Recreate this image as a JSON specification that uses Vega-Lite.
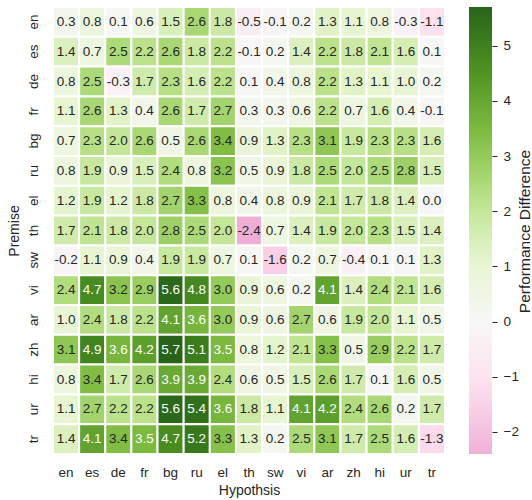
{
  "$schema": "https://vega.github.io/schema/vega-lite/v6.json",
  "width": 392,
  "height": 447,
  "autosize": {"type": "none"},
  "padding": {"left": 53, "top": 7, "right": 87, "bottom": 46},
  "background": "white",
  "config": {
    "font": "Liberation Sans",
    "view": {"stroke": null},
    "locale": {"number": {"decimal": ".", "thousands": ",", "grouping": [3], "currency": ["$", ""], "minus": "-"}}
  },
  "datasets": {
    "cells": [
      {"Premise":"en","Hypothsis":"en","value":0.3},{"Premise":"en","Hypothsis":"es","value":0.8},{"Premise":"en","Hypothsis":"de","value":0.1},{"Premise":"en","Hypothsis":"fr","value":0.6},{"Premise":"en","Hypothsis":"bg","value":1.5},{"Premise":"en","Hypothsis":"ru","value":2.6},{"Premise":"en","Hypothsis":"el","value":1.8},{"Premise":"en","Hypothsis":"th","value":-0.5},{"Premise":"en","Hypothsis":"sw","value":-0.1},{"Premise":"en","Hypothsis":"vi","value":0.2},{"Premise":"en","Hypothsis":"ar","value":1.3},{"Premise":"en","Hypothsis":"zh","value":1.1},{"Premise":"en","Hypothsis":"hi","value":0.8},{"Premise":"en","Hypothsis":"ur","value":-0.3},{"Premise":"en","Hypothsis":"tr","value":-1.1},
      {"Premise":"es","Hypothsis":"en","value":1.4},{"Premise":"es","Hypothsis":"es","value":0.7},{"Premise":"es","Hypothsis":"de","value":2.5},{"Premise":"es","Hypothsis":"fr","value":2.2},{"Premise":"es","Hypothsis":"bg","value":2.6},{"Premise":"es","Hypothsis":"ru","value":1.8},{"Premise":"es","Hypothsis":"el","value":2.2},{"Premise":"es","Hypothsis":"th","value":-0.1},{"Premise":"es","Hypothsis":"sw","value":0.2},{"Premise":"es","Hypothsis":"vi","value":1.4},{"Premise":"es","Hypothsis":"ar","value":2.2},{"Premise":"es","Hypothsis":"zh","value":1.8},{"Premise":"es","Hypothsis":"hi","value":2.1},{"Premise":"es","Hypothsis":"ur","value":1.6},{"Premise":"es","Hypothsis":"tr","value":0.1},
      {"Premise":"de","Hypothsis":"en","value":0.8},{"Premise":"de","Hypothsis":"es","value":2.5},{"Premise":"de","Hypothsis":"de","value":-0.3},{"Premise":"de","Hypothsis":"fr","value":1.7},{"Premise":"de","Hypothsis":"bg","value":2.3},{"Premise":"de","Hypothsis":"ru","value":1.6},{"Premise":"de","Hypothsis":"el","value":2.2},{"Premise":"de","Hypothsis":"th","value":0.1},{"Premise":"de","Hypothsis":"sw","value":0.4},{"Premise":"de","Hypothsis":"vi","value":0.8},{"Premise":"de","Hypothsis":"ar","value":2.2},{"Premise":"de","Hypothsis":"zh","value":1.3},{"Premise":"de","Hypothsis":"hi","value":1.1},{"Premise":"de","Hypothsis":"ur","value":1.0},{"Premise":"de","Hypothsis":"tr","value":0.2},
      {"Premise":"fr","Hypothsis":"en","value":1.1},{"Premise":"fr","Hypothsis":"es","value":2.6},{"Premise":"fr","Hypothsis":"de","value":1.3},{"Premise":"fr","Hypothsis":"fr","value":0.4},{"Premise":"fr","Hypothsis":"bg","value":2.6},{"Premise":"fr","Hypothsis":"ru","value":1.7},{"Premise":"fr","Hypothsis":"el","value":2.7},{"Premise":"fr","Hypothsis":"th","value":0.3},{"Premise":"fr","Hypothsis":"sw","value":0.3},{"Premise":"fr","Hypothsis":"vi","value":0.6},{"Premise":"fr","Hypothsis":"ar","value":2.2},{"Premise":"fr","Hypothsis":"zh","value":0.7},{"Premise":"fr","Hypothsis":"hi","value":1.6},{"Premise":"fr","Hypothsis":"ur","value":0.4},{"Premise":"fr","Hypothsis":"tr","value":-0.1},
      {"Premise":"bg","Hypothsis":"en","value":0.7},{"Premise":"bg","Hypothsis":"es","value":2.3},{"Premise":"bg","Hypothsis":"de","value":2.0},{"Premise":"bg","Hypothsis":"fr","value":2.6},{"Premise":"bg","Hypothsis":"bg","value":0.5},{"Premise":"bg","Hypothsis":"ru","value":2.6},{"Premise":"bg","Hypothsis":"el","value":3.4},{"Premise":"bg","Hypothsis":"th","value":0.9},{"Premise":"bg","Hypothsis":"sw","value":1.3},{"Premise":"bg","Hypothsis":"vi","value":2.3},{"Premise":"bg","Hypothsis":"ar","value":3.1},{"Premise":"bg","Hypothsis":"zh","value":1.9},{"Premise":"bg","Hypothsis":"hi","value":2.3},{"Premise":"bg","Hypothsis":"ur","value":2.3},{"Premise":"bg","Hypothsis":"tr","value":1.6},
      {"Premise":"ru","Hypothsis":"en","value":0.8},{"Premise":"ru","Hypothsis":"es","value":1.9},{"Premise":"ru","Hypothsis":"de","value":0.9},{"Premise":"ru","Hypothsis":"fr","value":1.5},{"Premise":"ru","Hypothsis":"bg","value":2.4},{"Premise":"ru","Hypothsis":"ru","value":0.8},{"Premise":"ru","Hypothsis":"el","value":3.2},{"Premise":"ru","Hypothsis":"th","value":0.5},{"Premise":"ru","Hypothsis":"sw","value":0.9},{"Premise":"ru","Hypothsis":"vi","value":1.8},{"Premise":"ru","Hypothsis":"ar","value":2.5},{"Premise":"ru","Hypothsis":"zh","value":2.0},{"Premise":"ru","Hypothsis":"hi","value":2.5},{"Premise":"ru","Hypothsis":"ur","value":2.8},{"Premise":"ru","Hypothsis":"tr","value":1.5},
      {"Premise":"el","Hypothsis":"en","value":1.2},{"Premise":"el","Hypothsis":"es","value":1.9},{"Premise":"el","Hypothsis":"de","value":1.2},{"Premise":"el","Hypothsis":"fr","value":1.8},{"Premise":"el","Hypothsis":"bg","value":2.7},{"Premise":"el","Hypothsis":"ru","value":3.3},{"Premise":"el","Hypothsis":"el","value":0.8},{"Premise":"el","Hypothsis":"th","value":0.4},{"Premise":"el","Hypothsis":"sw","value":0.8},{"Premise":"el","Hypothsis":"vi","value":0.9},{"Premise":"el","Hypothsis":"ar","value":2.1},{"Premise":"el","Hypothsis":"zh","value":1.7},{"Premise":"el","Hypothsis":"hi","value":1.8},{"Premise":"el","Hypothsis":"ur","value":1.4},{"Premise":"el","Hypothsis":"tr","value":0.0},
      {"Premise":"th","Hypothsis":"en","value":1.7},{"Premise":"th","Hypothsis":"es","value":2.1},{"Premise":"th","Hypothsis":"de","value":1.8},{"Premise":"th","Hypothsis":"fr","value":2.0},{"Premise":"th","Hypothsis":"bg","value":2.8},{"Premise":"th","Hypothsis":"ru","value":2.5},{"Premise":"th","Hypothsis":"el","value":2.0},{"Premise":"th","Hypothsis":"th","value":-2.4},{"Premise":"th","Hypothsis":"sw","value":0.7},{"Premise":"th","Hypothsis":"vi","value":1.4},{"Premise":"th","Hypothsis":"ar","value":1.9},{"Premise":"th","Hypothsis":"zh","value":2.0},{"Premise":"th","Hypothsis":"hi","value":2.3},{"Premise":"th","Hypothsis":"ur","value":1.5},{"Premise":"th","Hypothsis":"tr","value":1.4},
      {"Premise":"sw","Hypothsis":"en","value":-0.2},{"Premise":"sw","Hypothsis":"es","value":1.1},{"Premise":"sw","Hypothsis":"de","value":0.9},{"Premise":"sw","Hypothsis":"fr","value":0.4},{"Premise":"sw","Hypothsis":"bg","value":1.9},{"Premise":"sw","Hypothsis":"ru","value":1.9},{"Premise":"sw","Hypothsis":"el","value":0.7},{"Premise":"sw","Hypothsis":"th","value":0.1},{"Premise":"sw","Hypothsis":"sw","value":-1.6},{"Premise":"sw","Hypothsis":"vi","value":0.2},{"Premise":"sw","Hypothsis":"ar","value":0.7},{"Premise":"sw","Hypothsis":"zh","value":-0.4},{"Premise":"sw","Hypothsis":"hi","value":0.1},{"Premise":"sw","Hypothsis":"ur","value":0.1},{"Premise":"sw","Hypothsis":"tr","value":1.3},
      {"Premise":"vi","Hypothsis":"en","value":2.4},{"Premise":"vi","Hypothsis":"es","value":4.7},{"Premise":"vi","Hypothsis":"de","value":3.2},{"Premise":"vi","Hypothsis":"fr","value":2.9},{"Premise":"vi","Hypothsis":"bg","value":5.6},{"Premise":"vi","Hypothsis":"ru","value":4.8},{"Premise":"vi","Hypothsis":"el","value":3.0},{"Premise":"vi","Hypothsis":"th","value":0.9},{"Premise":"vi","Hypothsis":"sw","value":0.6},{"Premise":"vi","Hypothsis":"vi","value":0.2},{"Premise":"vi","Hypothsis":"ar","value":4.1},{"Premise":"vi","Hypothsis":"zh","value":1.4},{"Premise":"vi","Hypothsis":"hi","value":2.4},{"Premise":"vi","Hypothsis":"ur","value":2.1},{"Premise":"vi","Hypothsis":"tr","value":1.6},
      {"Premise":"ar","Hypothsis":"en","value":1.0},{"Premise":"ar","Hypothsis":"es","value":2.4},{"Premise":"ar","Hypothsis":"de","value":1.8},{"Premise":"ar","Hypothsis":"fr","value":2.2},{"Premise":"ar","Hypothsis":"bg","value":4.1},{"Premise":"ar","Hypothsis":"ru","value":3.6},{"Premise":"ar","Hypothsis":"el","value":3.0},{"Premise":"ar","Hypothsis":"th","value":0.9},{"Premise":"ar","Hypothsis":"sw","value":0.6},{"Premise":"ar","Hypothsis":"vi","value":2.7},{"Premise":"ar","Hypothsis":"ar","value":0.6},{"Premise":"ar","Hypothsis":"zh","value":1.9},{"Premise":"ar","Hypothsis":"hi","value":2.0},{"Premise":"ar","Hypothsis":"ur","value":1.1},{"Premise":"ar","Hypothsis":"tr","value":0.5},
      {"Premise":"zh","Hypothsis":"en","value":3.1},{"Premise":"zh","Hypothsis":"es","value":4.9},{"Premise":"zh","Hypothsis":"de","value":3.6},{"Premise":"zh","Hypothsis":"fr","value":4.2},{"Premise":"zh","Hypothsis":"bg","value":5.7},{"Premise":"zh","Hypothsis":"ru","value":5.1},{"Premise":"zh","Hypothsis":"el","value":3.5},{"Premise":"zh","Hypothsis":"th","value":0.8},{"Premise":"zh","Hypothsis":"sw","value":1.2},{"Premise":"zh","Hypothsis":"vi","value":2.1},{"Premise":"zh","Hypothsis":"ar","value":3.3},{"Premise":"zh","Hypothsis":"zh","value":0.5},{"Premise":"zh","Hypothsis":"hi","value":2.9},{"Premise":"zh","Hypothsis":"ur","value":2.2},{"Premise":"zh","Hypothsis":"tr","value":1.7},
      {"Premise":"hi","Hypothsis":"en","value":0.8},{"Premise":"hi","Hypothsis":"es","value":3.4},{"Premise":"hi","Hypothsis":"de","value":1.7},{"Premise":"hi","Hypothsis":"fr","value":2.6},{"Premise":"hi","Hypothsis":"bg","value":3.9},{"Premise":"hi","Hypothsis":"ru","value":3.9},{"Premise":"hi","Hypothsis":"el","value":2.4},{"Premise":"hi","Hypothsis":"th","value":0.6},{"Premise":"hi","Hypothsis":"sw","value":0.5},{"Premise":"hi","Hypothsis":"vi","value":1.5},{"Premise":"hi","Hypothsis":"ar","value":2.6},{"Premise":"hi","Hypothsis":"zh","value":1.7},{"Premise":"hi","Hypothsis":"hi","value":0.1},{"Premise":"hi","Hypothsis":"ur","value":1.6},{"Premise":"hi","Hypothsis":"tr","value":0.5},
      {"Premise":"ur","Hypothsis":"en","value":1.1},{"Premise":"ur","Hypothsis":"es","value":2.7},{"Premise":"ur","Hypothsis":"de","value":2.2},{"Premise":"ur","Hypothsis":"fr","value":2.2},{"Premise":"ur","Hypothsis":"bg","value":5.6},{"Premise":"ur","Hypothsis":"ru","value":5.4},{"Premise":"ur","Hypothsis":"el","value":3.6},{"Premise":"ur","Hypothsis":"th","value":1.8},{"Premise":"ur","Hypothsis":"sw","value":1.1},{"Premise":"ur","Hypothsis":"vi","value":4.1},{"Premise":"ur","Hypothsis":"ar","value":4.2},{"Premise":"ur","Hypothsis":"zh","value":2.4},{"Premise":"ur","Hypothsis":"hi","value":2.6},{"Premise":"ur","Hypothsis":"ur","value":0.2},{"Premise":"ur","Hypothsis":"tr","value":1.7},
      {"Premise":"tr","Hypothsis":"en","value":1.4},{"Premise":"tr","Hypothsis":"es","value":4.1},{"Premise":"tr","Hypothsis":"de","value":3.4},{"Premise":"tr","Hypothsis":"fr","value":3.5},{"Premise":"tr","Hypothsis":"bg","value":4.7},{"Premise":"tr","Hypothsis":"ru","value":5.2},{"Premise":"tr","Hypothsis":"el","value":3.3},{"Premise":"tr","Hypothsis":"th","value":1.3},{"Premise":"tr","Hypothsis":"sw","value":0.2},{"Premise":"tr","Hypothsis":"vi","value":2.5},{"Premise":"tr","Hypothsis":"ar","value":3.1},{"Premise":"tr","Hypothsis":"zh","value":1.7},{"Premise":"tr","Hypothsis":"hi","value":2.5},{"Premise":"tr","Hypothsis":"ur","value":1.6},{"Premise":"tr","Hypothsis":"tr","value":-1.3}
    ]
  },
  "data": {"name": "cells"},
  "encoding": {
    "x": {
      "field": "Hypothsis", "type": "nominal",
      "sort": ["en","es","de","fr","bg","ru","el","th","sw","vi","ar","zh","hi","ur","tr"],
      "scale": {"paddingInner": 0, "paddingOuter": 0},
      "axis": {
        "orient": "bottom", "title": "Hypothsis", "domain": false, "ticks": false, "tickSize": 0, "grid": false,
        "labelAngle": 0, "labelPadding": 11, "labelBaseline": "top", "labelFontSize": 13.5, "labelColor": "#262626",
        "titleFontSize": 14, "titleFontWeight": "normal", "titleColor": "#262626",
        "titleY": 40, "titleBaseline": "alphabetic"
      }
    }
  },
  "layer": [
    {
      "encoding": {
        "y": {
          "field": "Premise", "type": "nominal",
          "sort": ["en","es","de","fr","bg","ru","el","th","sw","vi","ar","zh","hi","ur","tr"],
          "scale": {"paddingInner": 0, "paddingOuter": 0},
          "axis": {
            "orient": "left", "title": "Premise", "domain": false, "ticks": false, "tickSize": 0, "grid": false,
            "labelAngle": 270, "labelAlign": "center", "labelBaseline": "alphabetic", "labelPadding": 16,
            "labelFontSize": 13.5, "labelColor": "#262626",
            "titleFontSize": 14, "titleFontWeight": "normal", "titleColor": "#262626",
            "titleAngle": 270, "titleBaseline": "alphabetic", "titleAlign": "center", "titleX": -35, "titleY": 223.5
          }
        }
      },
      "layer": [
        {
          "mark": {"type": "rect", "stroke": "white", "strokeWidth": 2},
          "encoding": {
            "color": {
              "field": "value", "type": "quantitative",
              "scale": {
                "type": "linear",
                "domain": [-2.4, -2.28, -1.14, 0, 1.14, 2.28, 3.42, 4.56, 5.7],
                "range": ["#efafd5", "#f1b6da", "#fde0ef", "#f7f7f7", "#e6f5d0", "#b8e186", "#7fbc41", "#4d9221", "#276419"],
                "interpolate": "rgb", "clamp": true
              },
              "legend": {
                "orient": "none", "legendX": 416, "legendY": 0, "direction": "vertical",
                "gradientLength": 447, "gradientThickness": 23, "gradientStrokeWidth": 0,
                "values": [-2, 5],
                "labelExpr": "''",
                "title": null
              }
            }
          }
        },
        {
          "mark": {"type": "text", "fontSize": 13.5, "align": "center", "baseline": "middle"},
          "encoding": {
            "text": {"field": "value", "type": "quantitative", "format": ".1f"},
            "color": {"condition": {"test": "datum.value >= 3.45", "value": "white"}, "value": "#262626"}
          }
        }
      ]
    },
    {
      "mark": {"type": "tick", "opacity": 0},
      "encoding": {
        "y": {
          "field": "value", "type": "quantitative",
          "scale": {"domain": [-2.4, 5.7], "nice": false, "zero": false},
          "axis": {
            "orient": "right", "offset": 47, "title": "Performance Difference",
            "domain": false, "grid": false, "ticks": true, "tickSize": 5, "tickWidth": 1, "tickColor": "#262626",
            "values": [-2, -1, 0, 1, 2, 3, 4, 5],
            "labelExpr": "replace(format(datum.value, 'd'), '-', '−')",
            "labelPadding": 6, "labelFontSize": 13.5, "labelColor": "#262626", "labelBaseline": "middle",
            "titleFontSize": 15.5, "titleFontWeight": "normal", "titleColor": "#262626",
            "titleAngle": 270, "titleBaseline": "alphabetic", "titleAlign": "center", "titleX": 37.5, "titleY": 224
          }
        }
      }
    }
  ],
  "resolve": {"scale": {"y": "independent"}, "axis": {"y": "independent"}}
}
